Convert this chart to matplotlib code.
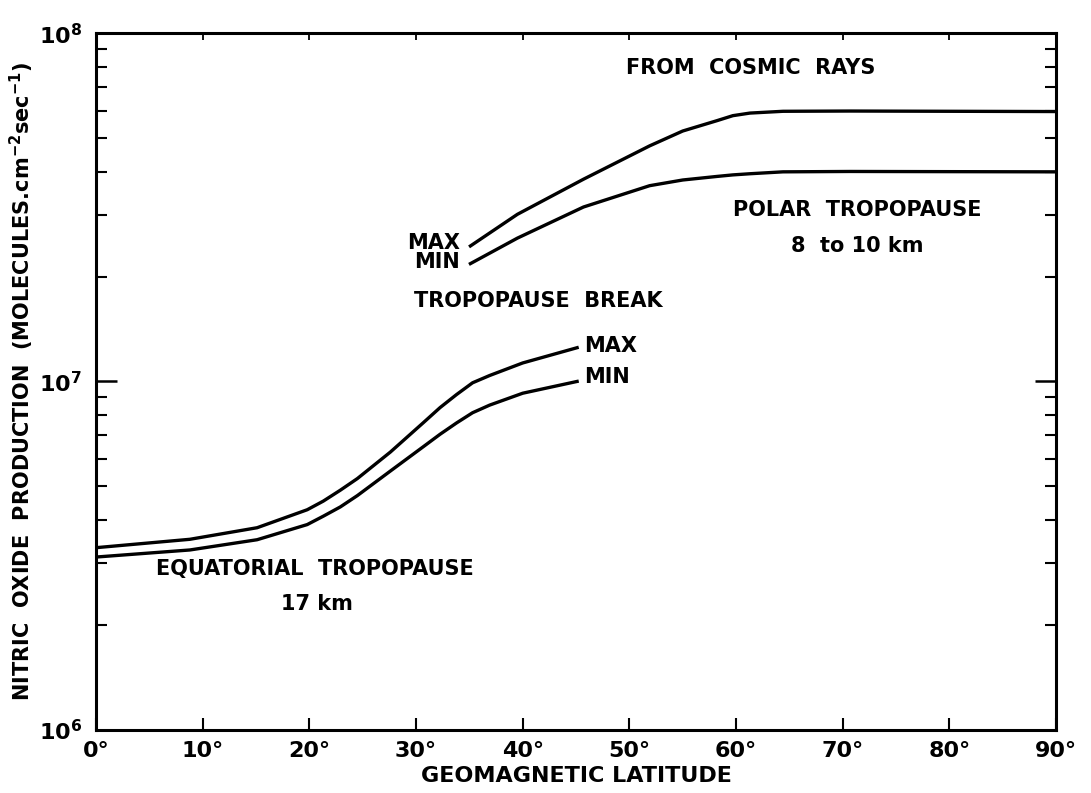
import matplotlib
matplotlib.use("Agg")
import matplotlib.pyplot as plt
from matplotlib.ticker import LogLocator, NullFormatter, FixedLocator

# geomagnetic latitude (deg) and NO production (molecules cm-2 s-1)
lat_equ = [0, 8.8, 15.1, 18.2, 19.8, 21.3, 22.9, 24.5, 27.6, 30.7, 32.25, 33.8, 35.3, 36.9, 40.0, 45.1]
equ_max = [3.33e6, 3.52e6, 3.80e6, 4.11e6, 4.28e6, 4.53e6, 4.87e6, 5.26e6, 6.27e6, 7.62e6, 8.41e6,
           9.17e6, 9.91e6, 1.04e7, 1.13e7, 1.25e7]
equ_min = [3.13e6, 3.28e6, 3.51e6, 3.75e6, 3.88e6, 4.10e6, 4.36e6, 4.70e6, 5.53e6, 6.50e6, 7.05e6,
           7.60e6, 8.13e6, 8.55e6, 9.25e6, 1.00e7]

lat_pol = [35.1, 39.5, 45.7, 51.9, 55.0, 58.2, 59.7, 61.3, 64.4, 70.7, 90]
pol_max = [2.45e7, 3.02e7, 3.81e7, 4.75e7, 5.24e7, 5.61e7, 5.80e7, 5.90e7, 5.97e7, 5.98e7, 5.96e7]
pol_min = [2.18e7, 2.58e7, 3.17e7, 3.65e7, 3.79e7, 3.88e7, 3.92e7, 3.95e7, 4.00e7, 4.01e7, 4.00e7]

x_ticks = [0, 10, 20, 30, 40, 50, 60, 70, 80, 90]
x_labels = [f"{t}°" for t in x_ticks]

plt.rcParams['font.family'] = ['DejaVu Sans']
fig = plt.figure(figsize=(10.91, 7.93), dpi=100)
ax = fig.add_axes([0.088, 0.080, 0.880, 0.878])

lw = 2.4
ax.plot(lat_equ, equ_max, color='black', lw=lw)
ax.plot(lat_equ, equ_min, color='black', lw=lw)
ax.plot(lat_pol, pol_max, color='black', lw=lw)
ax.plot(lat_pol, pol_min, color='black', lw=lw)

ax.set_yscale('log')
ax.set_xlim(0, 90)
ax.set_ylim(1e6, 1e8)

for s in ax.spines.values():
    s.set_linewidth(2.2)

ax.xaxis.set_major_locator(FixedLocator(x_ticks))
ax.set_xticklabels(x_labels, fontsize=16, fontweight='bold')
ax.yaxis.set_minor_locator(LogLocator(base=10, subs=range(2, 10), numticks=20))
ax.yaxis.set_minor_formatter(NullFormatter())
ax.set_yticks([1e6, 1e7, 1e8])
ax.set_yticklabels([r'$\mathbf{10^{6}}$', r'$\mathbf{10^{7}}$', r'$\mathbf{10^{8}}$'], fontsize=16)
ax.tick_params(axis='x', direction='in', length=9, width=1.5, top=False, pad=8)
ax.tick_params(axis='y', which='major', direction='in', length=15, width=1.8, right=True, pad=10)
ax.tick_params(axis='y', which='minor', direction='in', length=8, width=1.5, right=True)

# small ticks along the top edge
top = ax.secondary_xaxis('top')
top.set_xticks(x_ticks[1:-1])
top.tick_params(direction='in', length=5, width=1.3, labeltop=False)
top.spines['top'].set_visible(False)

ax.set_xlabel('GEOMAGNETIC LATITUDE', fontsize=16, fontweight='bold', labelpad=4)
ax.set_ylabel(r'NITRIC  OXIDE  PRODUCTION  (MOLECULES.cm$^{\mathbf{-2}}$sec$^{\mathbf{-1}}$)',
              fontsize=15, fontweight='bold')
ax.yaxis.set_label_coords(-0.062, 0.5)

fs = 15
fw = 'bold'
ax.text(61.4, 7.93e7, 'FROM  COSMIC  RAYS', fontsize=fs, fontweight=fw, ha='center', va='center')
ax.text(71.4, 3.1e7, 'POLAR  TROPOPAUSE', fontsize=fs, fontweight=fw, ha='center', va='center')
ax.text(71.4, 2.45e7, '8  to 10 km', fontsize=fs, fontweight=fw, ha='center', va='center')
ax.text(34.1, 2.5e7, 'MAX', fontsize=fs, fontweight=fw, ha='right', va='center')
ax.text(34.1, 2.2e7, 'MIN', fontsize=fs, fontweight=fw, ha='right', va='center')
ax.text(41.5, 1.70e7, 'TROPOPAUSE  BREAK', fontsize=fs, fontweight=fw, ha='center', va='center')
ax.text(45.8, 1.26e7, 'MAX', fontsize=fs, fontweight=fw, ha='left', va='center')
ax.text(45.8, 1.03e7, 'MIN', fontsize=fs, fontweight=fw, ha='left', va='center')
ax.text(20.5, 2.9e6, 'EQUATORIAL  TROPOPAUSE', fontsize=fs, fontweight=fw, ha='center', va='center')
ax.text(20.7, 2.29e6, '17 km', fontsize=fs, fontweight=fw, ha='center', va='center')

fig.savefig('out.png', dpi=100)
